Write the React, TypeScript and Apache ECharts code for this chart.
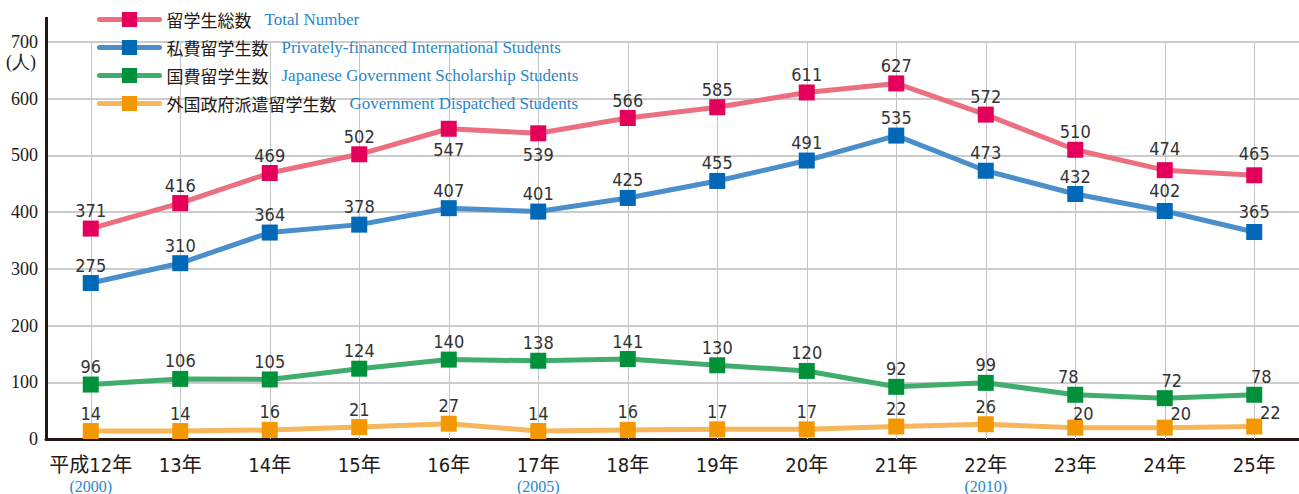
import React, { useEffect, useRef } from "react";
import * as echarts from "echarts";

const categories = ["平成12年", "13年", "14年", "15年", "16年", "17年", "18年", "19年", "20年", "21年", "22年", "23年", "24年", "25年"];
const westernYears = ["(2000)", "", "", "", "", "(2005)", "", "", "", "", "(2010)", "", "", ""];

const seriesNamesJa = ["留学生総数", "私費留学生数", "国費留学生数", "外国政府派遣留学生数"];
const seriesNamesEn = [
  "Total Number",
  "Privately-financed International Students",
  "Japanese Government Scholarship Students",
  "Government Dispatched Students",
];

const totalNumber = [371, 416, 469, 502, 547, 539, 566, 585, 611, 627, 572, 510, 474, 465];
const privatelyFinanced = [275, 310, 364, 378, 407, 401, 425, 455, 491, 535, 473, 432, 402, 365];
const govScholarship = [96, 106, 105, 124, 140, 138, 141, 130, 120, 92, 99, 78, 72, 78];
const govDispatched = [14, 14, 16, 21, 27, 14, 16, 17, 17, 22, 26, 20, 20, 22];

const yMax = 700;
const yStep = 100;

const NARROW = "'Liberation Sans Narrow', 'DejaVu Sans Condensed', 'Noto Sans CJK JP', sans-serif";
const SERIF = "'Liberation Serif', 'DejaVu Serif', serif";
const JP = "'Noto Sans CJK JP', sans-serif";

// per-point label adjustments (style only)
const labelTweaks: Record<number, Record<number, any>> = {
  0: { 4: { position: "bottom", distance: 4 }, 5: { position: "bottom", distance: 4 }, 12: { offset: [0, -4] }, 13: { offset: [0, -4] } },
  1: { 12: { offset: [0, -3] }, 13: { offset: [0, -3] } },
  2: { 11: { offset: [-7, 0] }, 12: { offset: [7, 0] }, 13: { offset: [7, 0] } },
  3: { 11: { offset: [8, 4] }, 12: { offset: [16, 4] }, 13: { offset: [16, 4] } },
};

export default function App() {
  const ref = useRef<HTMLDivElement>(null);

  useEffect(() => {
    if (!ref.current) return;
    const chart = echarts.init(ref.current, undefined, { renderer: "svg" });

    const mk = (i: number, values: number[], lineColor: string, symColor: string, z: number, extra: any = {}) => ({
      type: "line",
      name: seriesNamesJa[i],
      z,
      data: values.map((v, k) => (labelTweaks[i] && labelTweaks[i][k] ? { value: v, label: labelTweaks[i][k] } : v)),
      symbol: "rect",
      symbolSize: 16,
      lineStyle: { color: lineColor, width: 5, cap: "round", join: "round" },
      itemStyle: { color: symColor },
      label: {
        show: true,
        position: "top",
        distance: 1,
        fontFamily: NARROW,
        fontSize: 18,
        color: "#333333",
      },
      emphasis: { disabled: true },
      ...extra,
    });

    chart.setOption({
      animation: false,
      grid: { left: 46, top: 42, width: 1256, bottom: 55, containLabel: false },
      legend: {
        data: seriesNamesJa,
        orient: "vertical",
        left: 97,
        top: 11,
        padding: 0,
        itemWidth: 60,
        itemHeight: 19,
        itemGap: 11,
        selectedMode: false,
        lineStyle: { width: 5, cap: "round" },
        formatter: (name: string) => {
          const idx = seriesNamesJa.indexOf(name);
          return `{a|${name}}{b|${seriesNamesEn[idx]}}`;
        },
        textStyle: {
          rich: {
            a: { fontFamily: JP, fontSize: 17, color: "#231815", lineHeight: 19, padding: [0, 0, 0, 2] },
            b: { fontFamily: SERIF, fontSize: 17, color: "#2a86c8", lineHeight: 19, padding: [0, 0, 0, 13] },
          },
        },
      },
      xAxis: {
        type: "category",
        data: categories,
        boundaryGap: true,
        axisLine: { show: true, lineStyle: { color: "#231815", width: 3 } },
        axisTick: { show: false },
        splitLine: { show: false },
        axisLabel: {
          interval: 0,
          margin: 15,
          formatter: (v: string, idx: number) =>
            westernYears[idx] ? `{a|${v}}\n{b|${westernYears[idx]}}` : `{a|${v}}`,
          rich: {
            a: { fontFamily: NARROW, fontSize: 20, color: "#231815", lineHeight: 22 },
            b: { fontFamily: SERIF, fontSize: 16, color: "#2a86c8", lineHeight: 20 },
          },
        },
      },
      yAxis: {
        type: "value",
        min: 0,
        max: yMax,
        interval: yStep,
        axisLine: { show: false },
        axisTick: { show: false },
        axisLabel: { fontFamily: SERIF, fontSize: 18, color: "#231815", margin: 8 },
        splitLine: { lineStyle: { color: "#cccccc", width: 2 } },
      },
      graphic: [
        {
          type: "line",
          shape: { x1: 46.5, y1: 17, x2: 46.5, y2: 440 },
          style: { stroke: "#231815", lineWidth: 3 },
          z: 10,
        },
        {
          type: "text",
          left: 6,
          top: 53,
          style: { text: "(人)", font: `18px ${SERIF}`, fill: "#231815" },
        },
      ],
      series: [
        mk(0, totalNumber, "#ec6f80", "#e4005a", 5, {
          markLine: {
            silent: true,
            z: 1,
            symbol: ["none", "none"],
            label: { show: false },
            emphasis: { disabled: true },
            lineStyle: { color: "#c4c4c4", width: 1, type: "solid" },
            data: categories.map((c) => ({ xAxis: c })),
          },
        }),
        mk(1, privatelyFinanced, "#4a8ecb", "#0068b7", 4),
        mk(2, govScholarship, "#40ad6c", "#00913a", 3),
        mk(3, govDispatched, "#f7b65c", "#f39800", 2),
      ],
    });

    return () => chart.dispose();
  }, []);

  return (
    <div
      ref={ref}
      style={{ position: "absolute", left: 0, top: 0, width: 1299, height: 494 }}
    />
  );
}
